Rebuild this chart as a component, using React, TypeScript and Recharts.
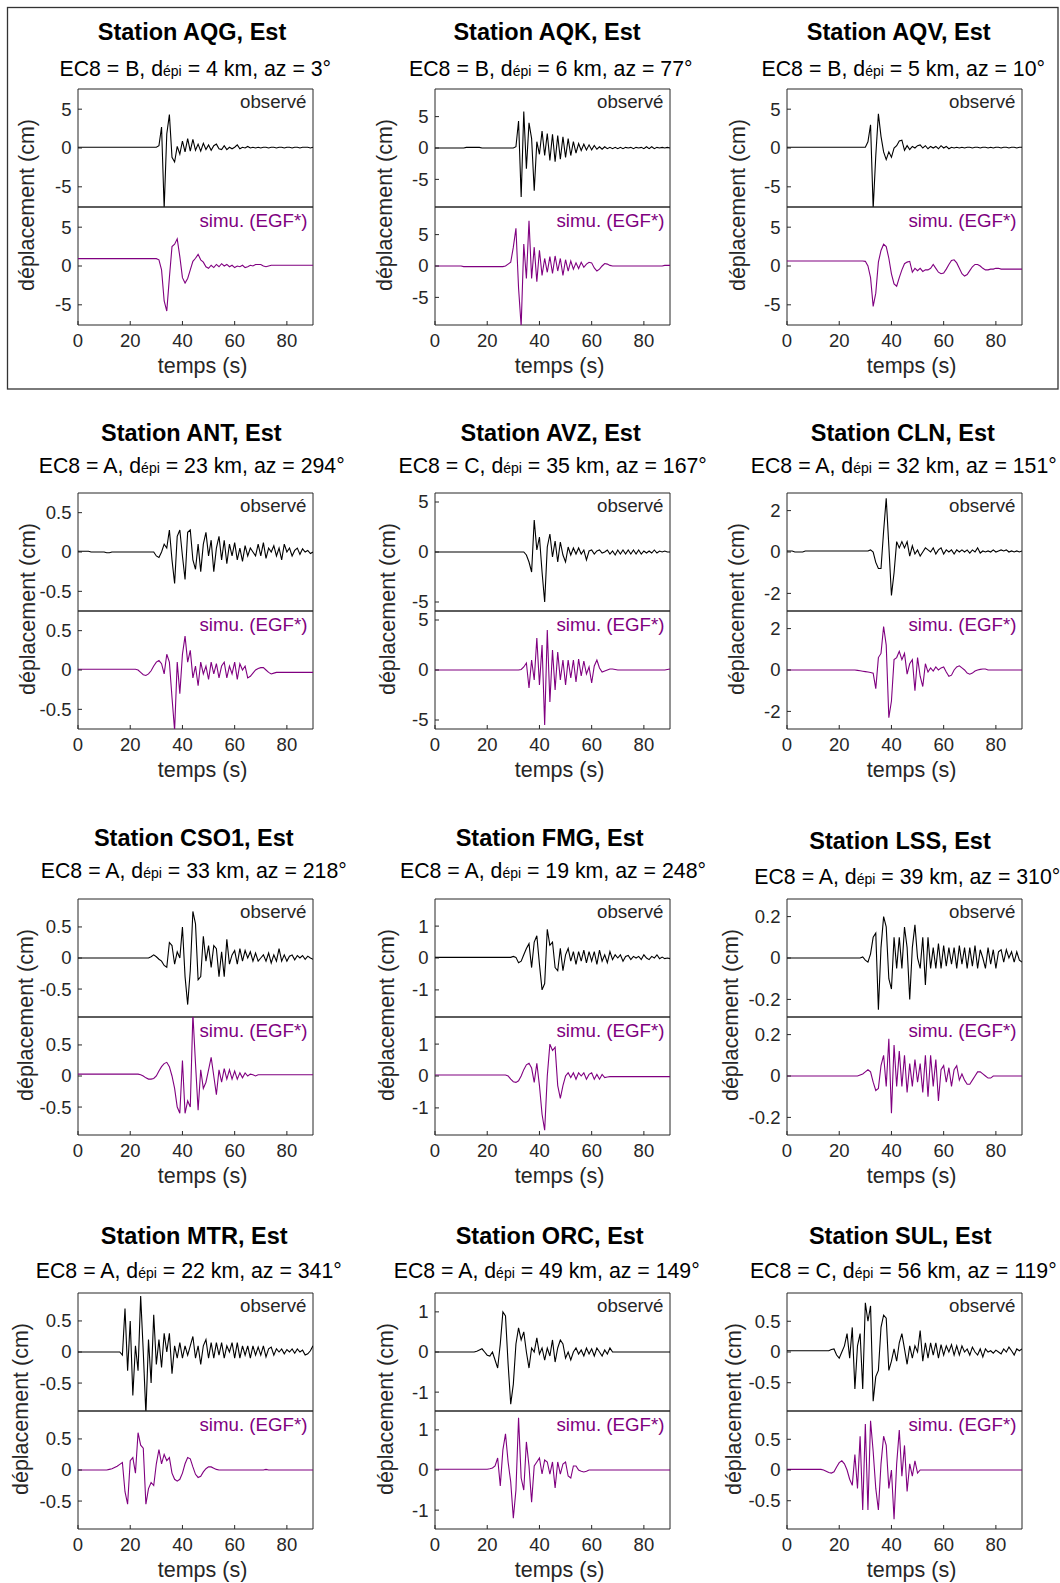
import React from "react";
import { LineChart, Line, XAxis, YAxis, ReferenceArea } from "recharts";

// --- data (sampled every second, 0..90 s) ---
const DT = 1;
const xTicks = [0, 20, 40, 60, 80];

const stations = ["AQG", "AQK", "AQV", "ANT", "AVZ", "CLN", "CSO1", "FMG", "LSS", "MTR", "ORC", "SUL"];
const ec8 = ["B", "B", "B", "A", "C", "A", "A", "A", "A", "A", "A", "C"];
const dEpi = [4, 6, 5, 23, 35, 32, 33, 19, 39, 22, 49, 56];
const azimuth = [3, 77, 10, 294, 167, 151, 218, 248, 310, 341, 149, 119];
const yLimits = [7.6, 9.4, 7.6, 0.75, 5.9, 2.85, 0.95, 1.85, 0.285, 0.95, 1.47, 0.96];
const yTicks = [
  [-5, 0, 5], [-5, 0, 5], [-5, 0, 5],
  [-0.5, 0, 0.5], [-5, 0, 5], [-2, 0, 2],
  [-0.5, 0, 0.5], [-1, 0, 1], [-0.2, 0, 0.2],
  [-0.5, 0, 0.5], [-1, 0, 1], [-0.5, 0, 0.5],
];

const aqgObs = [
  0.1, 0.1, 0.1, 0.1, 0.1, 0.1, 0.1, 0.1, 0.1, 0.1,
  0.1, 0.1, 0.1, 0.1, 0.1, 0.1, 0.1, 0.1, 0.1, 0.1,
  0.1, 0.1, 0.1, 0.1, 0.1, 0.1, 0.1, 0.1, 0.1, 0.1,
  0.1, 0.3, 2.7, -7.8, 1.8, 4.3, -1.2, -1.8, 0.2, -0.8,
  0.9, -0.5, 1.2, -0.4, 1.1, -0.3, 0.5, -0.4, 0.6, -0.2,
  0.4, -0.3, 0.3, 0.5, -0.1, -0.2, 0.3, -0.2, 0.1, -0.1,
  0.1, 0.4, -0.1, 0.1, 0.0, 0.2, 0.0, 0.1, 0.0, 0.1,
  0.0, 0.1, 0.1, 0.0, 0.1, 0.1, 0.0, 0.1, 0.1, 0.0,
  0.1, 0.1, 0.0, 0.1, 0.1, 0.0, 0.1, 0.1, 0.1, 0.0,
  0.1,
];
const aqgSim = [
  0.95, 0.95, 0.95, 0.95, 0.95, 0.95, 0.95, 0.95, 0.95, 0.95,
  0.95, 0.95, 0.95, 0.95, 0.95, 0.95, 0.95, 0.95, 0.95, 0.95,
  0.95, 0.95, 0.95, 0.95, 0.95, 0.95, 0.95, 0.95, 0.95, 0.95,
  0.95, 0.8, -0.5, -4.5, -5.8, -1.5, 2.5, 2.8, 3.5, 1.2,
  -1.5, -2.2, -1.6, -0.5, 0.6, 1.0, 1.5, 0.8, 0.5, -0.1,
  -0.3, 0.1, -0.2, 0.2, -0.1, 0.3, 0.0, 0.2, -0.1, 0.1,
  -0.2, 0.0, -0.1, 0.1, -0.2, -0.1, 0.1, 0.0, 0.2, 0.2,
  0.2, 0.0, -0.1, 0.0, 0.1, 0.1, 0.1, 0.1, 0.1, 0.1,
  0.1, 0.1, 0.1, 0.1, 0.1, 0.1, 0.1, 0.1, 0.1, 0.1,
  0.1,
];
const aqkObs = [
  0.0, 0.0, 0.0, 0.0, 0.0, 0.0, 0.0, 0.0, 0.0, 0.0,
  0.0, 0.0, 0.1, 0.1, 0.1, 0.1, 0.1, 0.1, 0.0, 0.0,
  0.0, 0.0, 0.0, 0.0, 0.0, 0.0, 0.0, 0.0, 0.0, 0.0,
  0.0, 0.2, 4.3, -7.8, 5.8, -3.3, 4.0, 1.5, -6.8, 1.0,
  -1.0, 2.7, -1.2, 2.3, -2.0, 2.2, -2.2, 2.0, -1.8, 1.8,
  -1.5, 1.5, -1.2, 1.0, -0.8, 0.7, -0.4, 0.6, -0.3, 0.5,
  -0.3, 0.4, -0.2, 0.2, -0.2, 0.2, -0.1, 0.1, -0.1, 0.1,
  -0.1, 0.1, -0.1, 0.1, 0.0, 0.1, -0.1, 0.1, 0.0, 0.1,
  -0.1, 0.2, -0.1, 0.2, -0.1, 0.1, 0.0, 0.1, 0.0, 0.1,
  0.0,
];
const aqkSim = [
  0.0, 0.0, 0.0, 0.0, 0.0, 0.0, 0.0, 0.0, 0.0, 0.0,
  0.0, -0.1, -0.1, -0.1, -0.1, -0.1, -0.1, -0.1, -0.1, -0.1,
  -0.1, -0.1, -0.1, -0.1, -0.1, -0.1, -0.1, 0.0, 0.3, 0.6,
  3.0, 6.0, -3.5, -9.6, 3.5, -2.0, 7.2, -2.0, 3.0, -2.5,
  2.5, -1.5, 1.2, -1.0, 1.5, -1.2, 1.6, -0.8, 1.2, -1.5,
  1.0, -0.8, 0.8, -0.5, 0.5, -0.4, 0.6, -0.2, 0.3, 0.6,
  0.5, -0.3, -0.8, -0.5, 0.0, 0.4, 0.3, 0.1, 0.0, 0.0,
  0.0, 0.0, 0.0, 0.0, 0.0, 0.0, 0.0, 0.0, 0.0, 0.0,
  0.0, 0.0, 0.0, 0.0, 0.0, 0.0, 0.0, 0.0, 0.1, 0.1,
  0.1,
];
const aqvObs = [
  0.1, 0.1, 0.1, 0.1, 0.1, 0.1, 0.1, 0.1, 0.1, 0.1,
  0.1, 0.1, 0.1, 0.1, 0.1, 0.1, 0.1, 0.1, 0.1, 0.1,
  0.1, 0.1, 0.1, 0.1, 0.1, 0.1, 0.1, 0.1, 0.1, 0.1,
  0.1, 0.8, 3.0, -7.8, -1.0, 4.4, 1.5, -0.5, -1.5, -0.5,
  -1.2, 0.0, 0.3, 0.9, 1.0, -0.3, 0.3, -0.2, 0.2, 0.0,
  0.3, 0.4, 0.0, 0.3, -0.1, 0.2, 0.0, 0.2, -0.1, 0.3,
  0.0, 0.2, -0.1, 0.1, 0.0, 0.1, 0.0, 0.1, 0.0, 0.1,
  0.1, 0.0, 0.1, 0.1, 0.0, 0.1, 0.1, 0.0, 0.1, 0.0,
  0.1, 0.1, 0.0, 0.1, 0.1, 0.0, 0.1, 0.1, 0.0, 0.1,
  0.1,
];
const aqvSim = [
  0.65, 0.65, 0.65, 0.65, 0.65, 0.65, 0.65, 0.65, 0.65, 0.65,
  0.65, 0.65, 0.65, 0.65, 0.65, 0.65, 0.65, 0.65, 0.65, 0.65,
  0.65, 0.65, 0.65, 0.65, 0.65, 0.65, 0.65, 0.65, 0.65, 0.65,
  0.6, 0.0, -1.5, -5.2, -3.5, 0.5, 2.0, 2.8, 2.5, 1.0,
  -1.0, -2.3, -2.6, -1.5, -0.5, 0.3, 0.5, 0.6, -0.8, -0.3,
  -0.6, -0.3, -0.7, -0.5, -0.5, -0.3, 0.2, -0.3, -0.8, -1.0,
  -0.9, -0.4, 0.2, 0.7, 0.8, 0.4, -0.3, -1.0, -1.3, -1.1,
  -0.6, -0.1, 0.2, 0.2, 0.0, -0.3, -0.5, -0.5, -0.4, -0.4,
  -0.3, -0.3, -0.4, -0.4, -0.4, -0.4, -0.4, -0.4, -0.4, -0.4,
  -0.4,
];
const antObs = [
  0.01, 0.01, 0.01, 0.01, 0.01, 0.0, 0.0, 0.0, 0.0, 0.0,
  0.0, -0.01, -0.01, 0.0, 0.0, 0.0, 0.0, 0.0, 0.0, 0.0,
  0.0, 0.0, 0.0, 0.0, 0.0, 0.0, 0.0, 0.0, 0.0, 0.0,
  -0.05, -0.07, 0.0, 0.1, 0.05, 0.28, -0.1, -0.4, 0.2, 0.28,
  -0.05, -0.35, 0.25, 0.28, -0.1, -0.22, 0.1, -0.25, 0.1, 0.25,
  -0.05, 0.15, -0.25, 0.05, 0.2, -0.1, 0.15, -0.15, 0.1, -0.05,
  0.12, -0.1, 0.05, -0.12, 0.08, -0.05, 0.05, 0.0, -0.05, 0.1,
  -0.05, 0.12, -0.08, 0.05, 0.0, 0.08, -0.05, 0.05, -0.1, 0.1,
  0.0, 0.05, -0.05, 0.02, 0.05, -0.03, 0.04, 0.0, 0.02, -0.02,
  0.0,
];
const antSim = [
  0.01, 0.01, 0.01, 0.01, 0.01, 0.01, 0.01, 0.01, 0.01, 0.01,
  0.01, 0.01, 0.01, 0.01, 0.01, 0.01, 0.01, 0.01, 0.01, 0.01,
  0.01, 0.01, 0.01, 0.0, -0.03, -0.06, -0.07, -0.05, -0.01, 0.05,
  0.1, 0.12, 0.08, -0.05, 0.2, 0.1, -0.35, -0.77, 0.1, -0.3,
  0.2, 0.43, 0.1, 0.25, -0.1, 0.05, -0.2, 0.1, -0.05, 0.05,
  -0.12, 0.1, -0.05, 0.08, -0.1, 0.05, 0.1, -0.1, 0.05, -0.05,
  0.1, -0.12, 0.08, 0.0, 0.05, -0.1, -0.08, -0.04, 0.0, 0.02,
  0.03, 0.03, 0.0, -0.03, -0.05, -0.04, -0.03, -0.03, -0.03, -0.03,
  -0.03, -0.03, -0.03, -0.03, -0.03, -0.03, -0.03, -0.03, -0.03, -0.03,
  -0.03,
];
const avzObs = [
  0.0, 0.0, 0.0, 0.0, 0.0, 0.0, 0.0, 0.0, 0.0, 0.0,
  0.0, 0.0, 0.0, 0.0, 0.0, 0.0, 0.0, 0.0, 0.0, 0.0,
  0.0, 0.0, 0.0, 0.0, 0.0, 0.0, 0.0, 0.0, 0.0, 0.0,
  0.0, 0.0, 0.0, 0.0, 0.0, -0.3, -1.0, -2.0, 3.2, 0.2,
  1.5, -2.0, -5.0, 0.5, 1.8, -0.5, 1.1, -1.0, 1.0, -0.3,
  -1.0, 0.5, -0.3, 0.4, -0.2, 0.4, -0.2, 0.2, -0.8, 0.1,
  0.2, -0.2, 0.1, 0.2, -0.1, 0.0, 0.2, -0.2, 0.1, -0.3,
  0.2, -0.2, 0.2, -0.2, 0.2, -0.2, 0.2, -0.2, 0.2, -0.2,
  0.1, -0.1, 0.1, -0.1, 0.2, -0.1, 0.1, 0.0, 0.1, 0.0,
  0.0,
];
const avzSim = [
  0.0, 0.0, 0.0, 0.0, 0.0, 0.0, 0.0, 0.0, 0.0, 0.0,
  0.0, 0.0, 0.0, 0.0, 0.0, 0.0, 0.0, 0.0, 0.0, 0.0,
  0.0, 0.0, 0.0, 0.0, 0.0, 0.0, 0.0, 0.0, 0.0, 0.0,
  0.0, 0.0, 0.0, 0.05, 0.3, 0.7, -1.8, 1.0, -1.0, 3.2,
  -1.5, 2.5, -5.5, 4.0, -3.2, 2.0, -2.0, 1.8, -1.0, 1.0,
  -1.5, 1.0, -0.8, 1.0, -1.2, 1.1, -0.6, 0.9, -0.4, 0.3,
  -1.3, 0.4, 1.0, 0.2, -0.2, -0.1, 0.0, 0.1, 0.1, 0.05,
  0.0, 0.0, 0.0, 0.0, 0.0, 0.0, 0.0, 0.0, 0.0, 0.0,
  0.0, 0.0, 0.0, 0.0, 0.0, 0.0, 0.0, 0.0, 0.0, 0.05,
  0.1,
];
const clnObs = [
  0.05, 0.05, 0.05, 0.0, 0.0, 0.0, 0.0, 0.05, 0.05, 0.05,
  0.05, 0.05, 0.05, 0.05, 0.05, 0.05, 0.05, 0.05, 0.05, 0.05,
  0.05, 0.05, 0.05, 0.05, 0.05, 0.05, 0.05, 0.05, 0.05, 0.05,
  0.05, 0.05, 0.1, 0.0, -0.5, -0.8, -0.8, 1.0, 2.6, 0.3,
  -2.1, -1.0, 0.5, 0.2, 0.5, 0.2, 0.5, -0.2, 0.3, -0.1,
  0.1, -0.2, 0.0, 0.2, 0.1, 0.0, 0.2, -0.1, 0.1, 0.2,
  -0.1, 0.1, 0.0, 0.1, -0.1, 0.1, 0.0, 0.1, 0.0, 0.1,
  -0.05, 0.1, 0.0, 0.2, -0.05, 0.05, 0.0, 0.05, 0.0, 0.1,
  0.0, 0.05, 0.1, 0.05, 0.1, 0.0, 0.05, 0.0, 0.05, 0.0,
  0.05,
];
const clnSim = [
  0.0, 0.0, 0.0, 0.0, 0.0, 0.0, 0.0, 0.0, 0.0, 0.0,
  0.0, 0.0, 0.0, 0.0, 0.0, 0.0, 0.0, 0.0, 0.0, 0.0,
  0.0, 0.0, 0.0, 0.0, 0.0, 0.0, 0.0, -0.02, -0.04, -0.06,
  -0.08, -0.1, -0.12, -0.15, -0.9, 0.6, 0.8, 2.1, 1.2, -2.3,
  -1.5, 0.5, 0.6, 0.9, 0.5, 0.8, -0.2, 0.3, 0.5, -1.0,
  0.6, -0.3, -0.8, 0.3, -0.1, 0.1, -0.05, 0.15, 0.0, 0.1,
  0.15, -0.1, -0.3, -0.25, 0.0, 0.15, 0.2, 0.1, 0.0, -0.15,
  -0.2, -0.15, -0.05, 0.0, 0.03, 0.05, 0.05, 0.0, 0.0, 0.0,
  0.0, 0.0, 0.0, 0.0, 0.0, 0.0, 0.0, 0.0, 0.0, 0.0,
  0.0,
];
const cso1Obs = [
  0.0, 0.0, 0.0, 0.0, 0.0, 0.0, 0.0, 0.0, 0.0, 0.0,
  0.0, 0.0, 0.0, 0.0, 0.0, 0.0, 0.0, 0.0, 0.0, 0.0,
  0.0, 0.0, 0.0, 0.0, 0.0, 0.0, 0.0, 0.0, 0.02, 0.05,
  0.02, -0.02, -0.05, -0.12, -0.15, 0.25, 0.2, -0.1, 0.1, 0.0,
  0.5, -0.3, -0.75, -0.2, 0.75, 0.55, -0.35, -0.3, 0.35, -0.05,
  0.2, -0.15, 0.2, 0.15, -0.3, 0.1, -0.3, 0.3, -0.1, 0.05,
  0.12, -0.1, 0.15, -0.05, 0.12, 0.0, 0.1, -0.05, 0.08, -0.05,
  0.0, 0.05, -0.05, 0.08, -0.08, 0.05, -0.05, 0.15, -0.05, 0.05,
  -0.05, 0.03, 0.05, -0.03, 0.04, 0.0, 0.04, -0.02, 0.03, 0.0,
  -0.02,
];
const cso1Sim = [
  0.03, 0.03, 0.03, 0.03, 0.03, 0.03, 0.03, 0.03, 0.03, 0.03,
  0.03, 0.03, 0.03, 0.03, 0.03, 0.03, 0.03, 0.03, 0.03, 0.03,
  0.03, 0.03, 0.03, 0.03, 0.02, 0.0, -0.03, -0.05, -0.05, -0.04,
  0.0, 0.08, 0.15, 0.2, 0.22, 0.15, 0.0, -0.2, -0.5, -0.6,
  0.25, -0.6, -0.4, -0.5, 1.0, 0.2, -0.55, 0.1, -0.2, -0.1,
  0.1, 0.3, 0.0, -0.3, 0.1, -0.1, 0.12, -0.05, 0.1, -0.05,
  0.08, -0.05, 0.05, -0.03, 0.05, 0.0, 0.03, 0.02, 0.0, 0.02,
  0.02, 0.02, 0.02, 0.02, 0.02, 0.02, 0.02, 0.02, 0.02, 0.02,
  0.02, 0.02, 0.02, 0.02, 0.02, 0.02, 0.02, 0.02, 0.02, 0.02,
  0.02,
];
const fmgObs = [
  0.02, 0.02, 0.02, 0.02, 0.02, 0.02, 0.02, 0.02, 0.02, 0.02,
  0.02, 0.02, 0.02, 0.02, 0.02, 0.02, 0.02, 0.02, 0.02, 0.02,
  0.02, 0.02, 0.02, 0.02, 0.02, 0.02, 0.02, 0.02, 0.02, 0.02,
  0.05, 0.02, -0.15, -0.1, 0.1, 0.3, 0.45, -0.3, 0.5, 0.7,
  -0.2, -1.0, -0.8, 0.9, 0.4, 0.5, -0.3, -0.4, 0.3, -0.4,
  0.1, 0.3, -0.1, 0.2, -0.2, 0.2, -0.1, 0.25, -0.15, 0.2,
  -0.1, 0.2, -0.2, 0.25, -0.1, 0.1, -0.15, 0.2, -0.05, 0.1,
  0.0, 0.1, -0.1, 0.05, 0.08, -0.05, 0.05, 0.0, 0.05, -0.05,
  0.1, 0.0, -0.05, 0.05, 0.0, 0.1, -0.02, 0.03, -0.02, 0.0,
  -0.02,
];
const fmgSim = [
  0.03, 0.03, 0.03, 0.03, 0.03, 0.03, 0.03, 0.03, 0.03, 0.03,
  0.03, 0.03, 0.03, 0.03, 0.03, 0.03, 0.03, 0.03, 0.03, 0.03,
  0.03, 0.03, 0.03, 0.03, 0.03, 0.03, 0.03, 0.03, 0.0, -0.1,
  -0.18, -0.2, -0.15, 0.0, 0.2, 0.35, 0.4, 0.25, -0.2, 0.4,
  -0.3, -1.2, -1.7, 0.0, 1.0, 0.8, 0.9, -0.3, -0.7, -0.3,
  0.0, 0.1, -0.05, 0.1, -0.1, 0.1, 0.0, 0.1, -0.1, 0.05,
  0.1, -0.1, 0.05, -0.1, 0.05, -0.05, -0.03, -0.02, -0.02, -0.02,
  -0.02, -0.02, -0.02, -0.02, -0.02, -0.02, -0.02, -0.02, -0.02, -0.02,
  -0.02, -0.02, -0.02, -0.02, -0.02, -0.02, -0.02, -0.02, -0.02, -0.02,
  -0.02,
];
const lssObs = [
  0.0, 0.0, 0.0, 0.0, 0.0, 0.0, 0.0, 0.0, 0.0, 0.0,
  0.0, 0.0, 0.0, 0.0, 0.0, 0.0, 0.0, 0.0, 0.0, 0.0,
  0.0, 0.0, 0.0, 0.0, 0.0, 0.0, 0.0, 0.0, 0.0, 0.005,
  -0.01, -0.02, 0.02, 0.1, 0.12, -0.25, 0.05, 0.2, 0.15, -0.1,
  -0.15, 0.1, -0.05, 0.1, -0.05, 0.15, 0.05, -0.2, 0.05, 0.16,
  0.0, -0.05, 0.1, -0.13, 0.1, -0.05, 0.05, -0.05, 0.07, -0.05,
  0.06, -0.04, 0.05, -0.03, 0.05, -0.05, 0.06, -0.03, 0.05, -0.05,
  0.05, -0.04, 0.06, -0.05, 0.04, 0.0, -0.05, 0.05, -0.03, 0.04,
  -0.05, 0.03, 0.04, -0.02, 0.04, 0.0, 0.03, -0.02, 0.03, -0.01,
  -0.02,
];
const lssSim = [
  0.0, 0.0, 0.0, 0.0, 0.0, 0.0, 0.0, 0.0, 0.0, 0.0,
  0.0, 0.0, 0.0, 0.0, 0.0, 0.0, 0.0, 0.0, 0.0, 0.0,
  0.0, 0.0, 0.0, 0.0, 0.0, 0.0, 0.0, 0.0, 0.005, 0.01,
  0.02, 0.03, 0.02, -0.03, -0.07, -0.06, 0.05, 0.1, -0.05, 0.18,
  -0.18, 0.15, -0.05, 0.12, -0.05, 0.1, -0.08, 0.06, -0.05, 0.08,
  -0.03, 0.06, -0.08, 0.1, -0.1, 0.1, -0.05, 0.08, -0.12, 0.03,
  0.05, -0.03, 0.04, -0.05, 0.03, 0.05, -0.02, 0.01, -0.02, -0.04,
  -0.04, -0.02, 0.0, 0.02, 0.02, 0.01, 0.0, -0.01, -0.01, 0.0,
  0.0, 0.0, 0.0, 0.0, 0.0, 0.0, 0.0, 0.0, 0.0, 0.0,
  0.0,
];
const mtrObs = [
  0.0, 0.0, 0.0, 0.0, 0.0, 0.0, 0.0, 0.0, 0.0, 0.0,
  0.0, 0.0, 0.0, 0.0, 0.0, 0.0, 0.0, -0.05, 0.7, -0.3,
  0.5, -0.7, 0.1, -0.3, 0.9, 0.0, -1.0, 0.2, -0.5, 0.6,
  -0.2, 0.2, -0.25, 0.3, 0.0, 0.3, -0.35, 0.1, -0.1, 0.15,
  -0.1, 0.1, -0.05, 0.1, 0.25, -0.1, 0.1, -0.2, 0.1, 0.2,
  -0.1, 0.15, -0.1, 0.15, -0.05, 0.15, -0.1, 0.1, 0.0, 0.15,
  -0.1, 0.15, -0.1, 0.1, -0.05, 0.1, -0.1, 0.1, -0.05, 0.08,
  -0.05, 0.1, -0.08, 0.05, 0.08, -0.05, 0.05, 0.0, 0.05, -0.03,
  0.04, 0.0, 0.05, -0.02, 0.05, 0.0, 0.03, -0.05, -0.03, 0.02,
  0.1,
];
const mtrSim = [
  0.0, 0.0, 0.0, 0.0, 0.0, 0.0, 0.0, 0.0, 0.0, 0.0,
  0.0, 0.0, 0.01, 0.02, 0.04, 0.06, 0.09, 0.12, -0.35, -0.55,
  0.15, 0.2, -0.05, 0.6, 0.4, 0.35, -0.55, -0.3, -0.2, -0.25,
  0.1, 0.33, 0.1, 0.25, 0.15, 0.2, -0.05, -0.15, -0.18, -0.15,
  -0.05, 0.1, 0.2, 0.18, 0.05, -0.07, -0.12, -0.1, -0.03, 0.02,
  0.05, 0.05, 0.03, 0.01, 0.0, 0.0, 0.0, 0.0, 0.0, 0.0,
  0.0, 0.0, 0.0, 0.0, 0.0, 0.0, 0.0, 0.0, 0.0, 0.0,
  0.0, 0.0, 0.01, 0.0, 0.0, 0.0, 0.0, 0.0, 0.0, 0.0,
  0.0, 0.0, 0.0, 0.0, 0.0, 0.0, 0.0, 0.0, 0.0, 0.0,
  0.0,
];
const orcObs = [
  0.0, 0.0, 0.0, 0.0, 0.0, 0.0, 0.0, 0.0, 0.0, 0.0,
  0.0, 0.0, 0.0, 0.0, 0.0, 0.0, 0.02, 0.05, 0.08, 0.0,
  -0.08, -0.1, 0.0, -0.2, -0.4, 0.2, 1.0, 0.9, -0.3, -1.3,
  -0.8, 0.2, 0.6, 0.3, 0.5, 0.0, -0.4, 0.1, 0.0, 0.35,
  -0.05, 0.1, -0.2, 0.1, -0.1, 0.3, -0.25, 0.1, 0.3, 0.2,
  -0.15, 0.0, -0.2, 0.0, 0.1, -0.05, 0.05, -0.1, 0.1, -0.05,
  0.08, -0.1, 0.1, 0.0, -0.1, 0.05, -0.05, 0.1, 0.0, 0.0,
  0.0, 0.0, 0.0, 0.0, 0.0, 0.0, 0.0, 0.0, 0.0, 0.0,
  0.0, 0.0, 0.0, 0.0, 0.0, 0.0, 0.0, 0.0, 0.0, 0.0,
  0.0,
];
const orcSim = [
  0.02, 0.02, 0.02, 0.02, 0.02, 0.02, 0.02, 0.02, 0.02, 0.02,
  0.02, 0.02, 0.02, 0.02, 0.02, 0.02, 0.02, 0.02, 0.02, 0.02,
  0.02, 0.03, 0.05, 0.1, 0.3, -0.4, 0.5, 0.9, 0.2, -0.3,
  -1.2, -0.5, 1.3, -0.2, -0.5, 0.7, 0.1, -0.8, 0.1, 0.2,
  0.3, -0.1, 0.25, 0.2, -0.1, 0.2, -0.45, 0.2, -0.1, 0.15,
  0.2, -0.15, -0.2, 0.1, 0.1, 0.0, -0.03, -0.05, -0.03, 0.0,
  0.0, 0.0, 0.0, 0.0, 0.0, 0.0, 0.0, 0.0, 0.0, 0.0,
  0.0, 0.0, 0.0, 0.0, 0.0, 0.0, 0.0, 0.0, 0.0, 0.0,
  0.0, 0.0, 0.0, 0.0, 0.0, 0.0, 0.0, 0.0, 0.0, 0.0,
  0.0,
];
const sulObs = [
  0.02, 0.02, 0.02, 0.02, 0.02, 0.02, 0.02, 0.02, 0.02, 0.02,
  0.02, 0.02, 0.02, 0.02, 0.02, 0.02, 0.02, 0.04, 0.05, -0.05,
  -0.1, 0.0, 0.1, 0.3, -0.1, 0.4, -0.6, 0.1, 0.3, -0.6,
  0.8, 0.5, 0.75, -0.8, -0.4, -0.3, 0.4, 0.6, 0.55, -0.3,
  -0.15, 0.05, -0.15, 0.15, 0.3, 0.05, -0.2, 0.1, -0.1, 0.1,
  0.0, 0.35, -0.15, 0.15, -0.1, 0.15, -0.05, 0.15, -0.1, 0.12,
  -0.05, 0.1, 0.0, 0.12, -0.05, 0.1, -0.05, 0.1, 0.0, 0.05,
  -0.05, 0.08, 0.0, -0.05, 0.05, -0.08, 0.05, 0.0, 0.02, -0.02,
  0.03, 0.0, -0.03, 0.05, 0.0, 0.08, 0.02, -0.05, 0.05, 0.02,
  0.05,
];
const sulSim = [
  0.01, 0.01, 0.01, 0.01, 0.01, 0.01, 0.01, 0.01, 0.01, 0.01,
  0.01, 0.01, 0.01, 0.01, 0.0, -0.02, -0.04, -0.05, -0.03, 0.05,
  0.12, 0.15, 0.1, 0.0, -0.15, -0.25, 0.25, -0.3, 0.55, -0.65,
  0.75, -0.65, 0.8, 0.3, -0.3, -0.65, 0.1, 0.55, 0.4, -0.3,
  0.0, -0.8, 0.1, 0.65, -0.1, 0.4, -0.35, 0.1, -0.1, 0.15,
  -0.05, 0.0, 0.0, 0.0, 0.0, 0.0, 0.0, 0.0, 0.0, 0.0,
  0.0, 0.0, 0.0, 0.0, 0.0, 0.0, 0.0, 0.0, 0.0, 0.0,
  0.0, 0.0, 0.0, 0.0, 0.0, 0.0, 0.0, 0.0, 0.0, 0.0,
  0.0, 0.0, 0.0, 0.0, 0.0, 0.0, 0.0, 0.0, 0.0, 0.0,
  0.0,
];

const observed = [aqgObs, aqkObs, aqvObs, antObs, avzObs, clnObs, cso1Obs, fmgObs, lssObs, mtrObs, orcObs, sulObs];
const simulated = [aqgSim, aqkSim, aqvSim, antSim, avzSim, clnSim, cso1Sim, fmgSim, lssSim, mtrSim, orcSim, sulSim];

// --- layout ---
const FONT = '"Liberation Sans", Arial, Helvetica, sans-serif';
const AXIS = "#262626";
const OBS_COLOR = "#000000";
const SIM_COLOR = "#800080";
const TICK_FONT = 18.5;

const PLOT_W = 235;
const SUB_H = 118;
const Y_AXIS_W = 70;
const X_AXIS_H = 34;
const PAD = 3;

const colLeft = [78, 435, 787];
const rowTop = [89, 493, 899, 1293];
const titleX = [192, 547, 898.7, 191.3, 550.7, 902.8, 193.8, 549.7, 900, 194.2, 549.7, 900.3];
const titleY = [40, 40, 40, 441, 441, 441, 846, 846, 849.3, 1244.3, 1244.3, 1244.3];
const subX = [195.3, 550.8, 903.3, 191.7, 552.7, 903.8, 193.8, 553, 907.3, 188.8, 546.7, 903.3];
const subY = [76, 76, 76, 473.3, 473.3, 473.3, 878.3, 878.3, 884, 1278.3, 1278.3, 1278.3];
const yLabelGap = [44, 43, 42, 43, 40, 43, 45, 41, 49, 50, 42, 46];

function YTick(props: any) {
  const { x, y, payload } = props;
  return (
    <text x={x} y={y} dy="0.35em" textAnchor="end" fontSize={TICK_FONT} fill={AXIS} fontFamily={FONT}>
      {payload.value}
    </text>
  );
}

function XTick(props: any) {
  const { x, y, payload } = props;
  return (
    <text x={x} y={y} dy="0.71em" textAnchor="middle" fontSize={TICK_FONT} fill={AXIS} fontFamily={FONT}>
      {payload.value}
    </text>
  );
}

type TraceProps = {
  values: number[];
  lim: number;
  ticks: number[];
  color: string;
  showX: boolean;
  left: number;
  top: number;
};

function Trace({ values, lim, ticks, color, showX, left, top }: TraceProps) {
  const data = values.map((v, i) => ({ t: i * DT, v }));
  const height = PAD + SUB_H + (showX ? X_AXIS_H : PAD);
  return (
    <div style={{ position: "absolute", left: left - Y_AXIS_W - PAD, top: top - PAD }}>
      <LineChart
        width={PAD + Y_AXIS_W + PLOT_W + PAD}
        height={height}
        data={data}
        margin={{ top: PAD, right: PAD, bottom: showX ? 0 : PAD, left: PAD }}
      >
        <XAxis
          type="number"
          dataKey="t"
          domain={[0, 90]}
          ticks={xTicks}
          interval={0}
          hide={!showX}
          height={X_AXIS_H}
          allowDataOverflow
          axisLine={false}
          tickLine={{ stroke: AXIS }}
          tickSize={-4}
          tickMargin={12.5}
          tick={<XTick />}
        />
        <YAxis
          type="number"
          domain={[-lim, lim]}
          ticks={ticks}
          interval={0}
          width={Y_AXIS_W}
          allowDataOverflow
          axisLine={false}
          tickLine={{ stroke: AXIS }}
          tickSize={-4}
          tickMargin={10.5}
          tick={<YTick />}
        />
        <ReferenceArea x1={0} x2={90} y1={-lim} y2={lim} fill="none" fillOpacity={0} stroke={AXIS} strokeWidth={1} />
        <Line
          type="linear"
          dataKey="v"
          stroke={color}
          strokeWidth={1.1}
          dot={false}
          isAnimationActive={false}
        />
      </LineChart>
    </div>
  );
}

export default function App() {
  return (
    <div style={{ position: "absolute", left: 0, top: 0, width: 1060, height: 1583, background: "#fff" }}>
      {stations.map((s, i) => {
        const left = colLeft[i % 3];
        const top = rowTop[Math.floor(i / 3)];
        return (
          <React.Fragment key={s}>
            <Trace values={observed[i]} lim={yLimits[i]} ticks={yTicks[i]} color={OBS_COLOR} showX={false} left={left} top={top} />
            <Trace values={simulated[i]} lim={yLimits[i]} ticks={yTicks[i]} color={SIM_COLOR} showX left={left} top={top + SUB_H} />
          </React.Fragment>
        );
      })}
      <svg
        width={1060}
        height={1583}
        style={{ position: "absolute", left: 0, top: 0, pointerEvents: "none" }}
        fontFamily={FONT}
      >
        <rect x={7.5} y={7.5} width={1050.5} height={381.5} fill="none" stroke="#333" strokeWidth={1.3} />
        {stations.map((s, i) => {
          const left = colLeft[i % 3];
          const top = rowTop[Math.floor(i / 3)];
          const yl = left - yLabelGap[i];
          const yc = top + SUB_H - 2;
          return (
            <g key={s}>
              <text x={titleX[i]} y={titleY[i]} textAnchor="middle" fontSize={23.5} fontWeight="bold" fill="#000">
                {`Station ${s}, Est`}
              </text>
              <text x={subX[i]} y={subY[i]} textAnchor="middle" fontSize={21.3} fill="#000">
                {`EC8 = ${ec8[i]}, d`}
                <tspan fontSize={14}>épi</tspan>
                {` = ${dEpi[i]} km, az = ${azimuth[i]}°`}
              </text>
              <text
                x={yl}
                y={yc}
                textAnchor="middle"
                fontSize={21.5}
                fill={AXIS}
                transform={`rotate(-90 ${yl} ${yc})`}
              >
                déplacement (cm)
              </text>
              <text x={left + PLOT_W / 2 + 7} y={top + 2 * SUB_H + 47.5} textAnchor="middle" fontSize={21.5} fill={AXIS}>
                temps (s)
              </text>
              <text x={left + PLOT_W - 6.5} y={top + 19} textAnchor="end" fontSize={18.7} fill={AXIS}>
                observé
              </text>
              <text x={left + PLOT_W - 5.5} y={top + SUB_H + 19.5} textAnchor="end" fontSize={18.7} fill={SIM_COLOR}>
                simu. (EGF*)
              </text>
            </g>
          );
        })}
      </svg>
    </div>
  );
}
